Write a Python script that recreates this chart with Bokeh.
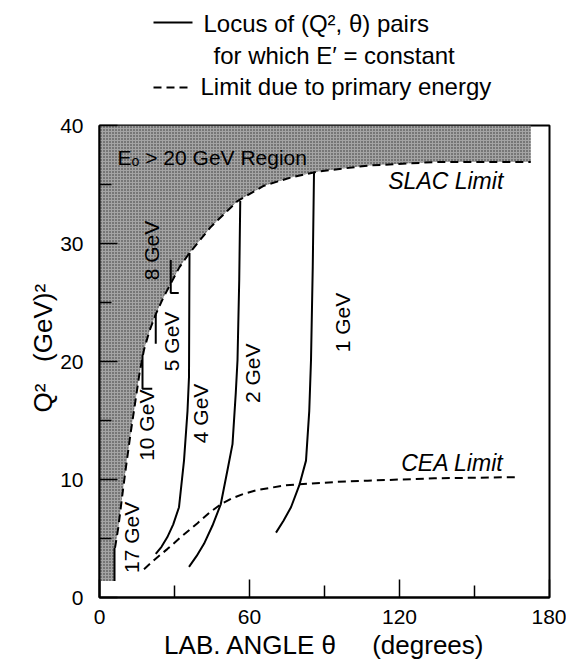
from bokeh.plotting import figure
from bokeh.models import Range1d, FixedTicker, Title
from bokeh.layouts import column
from bokeh.embed import file_html
from bokeh.resources import INLINE
from bokeh.core.properties import value
import math

FONT = "Liberation Sans"
NB = "\u00a0"

# ---------------- data ----------------
# SLAC limit (primary energy 20 GeV), theta in degrees, Q^2 in GeV^2
SLAC_THETA = [6.2, 7.5, 8.5, 9.5, 11.0, 12.5, 14.4, 16.0, 17.8, 20.0, 22.5, 25.5,
              28.5, 32.0, 36.0, 44.5, 55.2, 65.8, 76.6, 87.3, 107.3, 134.0, 172.5]
SLAC_Q2 = [4.2, 5.9, 7.6, 9.3, 11.7, 14.0, 16.7, 19.0, 21.0, 22.6, 24.0, 25.4,
           26.6, 28.0, 29.2, 31.4, 33.6, 34.9, 35.6, 36.1, 36.6, 36.9, 36.9]

# CEA limit
CEA_THETA = [17.8, 22.0, 27.1, 33.0, 39.2, 44.0, 48.5, 53.0, 57.9, 63.0, 68.6,
             74.0, 80.0, 95.3, 107.3, 134.0, 167.5]
CEA_Q2 = [2.4, 3.2, 4.1, 5.2, 6.3, 7.2, 7.9, 8.4, 8.8, 9.1, 9.3,
          9.5, 9.6, 9.8, 9.9, 10.1, 10.2]

# loci E' = constant
E1_THETA = [70.6, 73.6, 76.6, 79.9, 82.6, 83.9, 84.6, 85.3, 85.8]
E1_Q2 = [5.5, 6.5, 7.65, 9.5, 11.6, 15.8, 20.1, 28.0, 36.0]
E2_THETA = [35.8, 38.8, 41.8, 45.2, 48.5, 51.2, 53.2, 54.5, 55.2, 55.9, 56.3]
E2_Q2 = [2.6, 3.5, 4.55, 6.1, 7.9, 10.8, 13.0, 17.3, 20.1, 27.0, 33.6]
E4_THETA = [22.5, 24.8, 27.1, 29.5, 31.8, 33.8, 35.2, 35.8, 36.0]
E4_Q2 = [3.7, 4.3, 5.1, 6.2, 7.65, 11.6, 15.8, 18.7, 29.2]
E5_THETA = [31.7, 28.5, 28.5]
E5_Q2 = [25.8, 25.8, 28.6]
E8_THETA = [22.5, 22.5]
E8_Q2 = [21.5, 24.0]
E10_THETA = [21.1, 17.2, 17.2]
E10_Q2 = [17.7, 17.7, 20.6]
E17_THETA = [6.0, 6.0]
E17_Q2 = [1.4, 4.2]

Q2_MAX = 40
THETA_MAX = 180

# curve labels
LABEL_TEXT = ["1 GeV", "2 GeV", "4 GeV", "5 GeV", "8 GeV", "10 GeV", "17 GeV"]
LABEL_THETA = [97.0, 61.3, 40.5, 28.7, 20.8, 18.6, 12.6]
LABEL_Q2 = [23.3, 19.0, 15.6, 21.7, 29.4, 14.6, 5.1]

LIMIT_TEXT = ["SLAC Limit", "CEA Limit"]
LIMIT_THETA = [115.5, 120.7]
LIMIT_Q2 = [35.3, 11.4]

REGION_TEXT = ["E\u2092 > 20 GeV Region"]
REGION_THETA = [7.2]
REGION_Q2 = [37.3]

LEGEND_TEXT = ["Locus of (Q\u00b2, \u03b8) pairs", "for which E\u2032 = constant",
               "Limit due to primary energy"]

X_TICKS = [0, 60, 120, 180]
X_MINOR = [30, 90, 150]
Y_TICKS = [0, 10, 20, 30, 40]
Y_MINOR = [5, 15, 25, 35]

W = 566
HH = 113

x_range = Range1d(0, THETA_MAX)

# ---------------- header (legend) ----------------
h = figure(width=W, height=HH, x_range=x_range, y_range=Range1d(HH, 0),
           toolbar_location=None, output_backend="svg",
           x_axis_location=None, y_axis_location=None,
           min_border_left=99, min_border_right=17, min_border_top=0,
           min_border_bottom=0)
h.outline_line_color = None
h.xgrid.visible = False
h.ygrid.visible = False
h.line([21.6, 37.2], [22, 22], line_color="black", line_width=2)
h.line([21.6, 36.4], [87, 87], line_color="black", line_width=2, line_dash="8 5")
h.text(x=[41.6, 45.6, 40.4], y=[23, 55, 86], text=LEGEND_TEXT,
       text_font=value(FONT), text_font_size="24px", text_color="black",
       text_align="left", text_baseline="middle")

# ---------------- main chart ----------------
p = figure(width=W, height=552, x_range=x_range, y_range=Range1d(0, Q2_MAX),
           toolbar_location=None, output_backend="svg",
           min_border_left=99, min_border_right=17, min_border_top=12,
           min_border_bottom=68)
p.xgrid.visible = False
p.ygrid.visible = False
p.outline_line_color = "black"
p.outline_line_width = 2

# shaded region above the SLAC limit
shade_x = [0, SLAC_THETA[-1]] + SLAC_THETA[::-1] + [E17_THETA[1], E17_THETA[0], 0]
shade_y = [Q2_MAX, Q2_MAX] + SLAC_Q2[::-1] + [E17_Q2[1], E17_Q2[0], E17_Q2[0]]
p.patch(shade_x, shade_y, fill_color="#a4a4a4", line_color=None,
        hatch_pattern=".", hatch_color="#303030", hatch_scale=3, hatch_weight=1)

# limits (dashed)
p.line(SLAC_THETA, SLAC_Q2, line_color="black", line_width=2, line_dash="8 5")
p.line(CEA_THETA, CEA_Q2, line_color="black", line_width=2, line_dash="8 5")

# E' = constant loci
for xs, ys in [(E1_THETA, E1_Q2), (E2_THETA, E2_Q2), (E4_THETA, E4_Q2),
               (E5_THETA, E5_Q2), (E8_THETA, E8_Q2), (E10_THETA, E10_Q2),
               (E17_THETA, E17_Q2)]:
    p.line(xs, ys, line_color="black", line_width=2)

p.text(x=LABEL_THETA, y=LABEL_Q2, text=LABEL_TEXT, angle=math.pi / 2,
       text_font=value(FONT), text_font_size="21px", text_color="black",
       text_align="center", text_baseline="middle")
p.text(x=LIMIT_THETA, y=LIMIT_Q2, text=LIMIT_TEXT,
       text_font=value(FONT), text_font_size="23px", text_font_style="italic",
       text_color="black", text_align="left", text_baseline="middle")
p.text(x=REGION_THETA, y=REGION_Q2, text=REGION_TEXT,
       text_font=value(FONT), text_font_size="21px", text_color="black",
       text_align="left", text_baseline="middle")

# y-axis title as a side title (bottom-anchored, shifted up by offset)
p.add_layout(Title(text="Q\u00b2" + NB * 3 + "(GeV)\u00b2", align="left", offset=185,
                   text_font=FONT, text_font_size="26px", text_font_style="normal",
                   text_color="black", standoff=0), "left")

# axes
p.xaxis.ticker = FixedTicker(ticks=X_TICKS, minor_ticks=X_MINOR)
p.yaxis.ticker = FixedTicker(ticks=Y_TICKS, minor_ticks=Y_MINOR)
for ax in (p.xaxis, p.yaxis):
    ax.major_tick_in = 18
    ax.major_tick_out = 0
    ax.minor_tick_in = 12
    ax.minor_tick_out = 0
    ax.major_tick_line_width = 1.5
    ax.minor_tick_line_width = 1.5
    ax.axis_line_width = 2
    ax.major_label_text_font = FONT
    ax.major_label_text_font_size = "21px"
    ax.major_label_text_color = "black"
    ax.axis_label_text_font = FONT
    ax.axis_label_text_font_style = "normal"
    ax.axis_label_text_color = "black"
p.xaxis.axis_label_text_font_size = "26px"
p.xaxis.major_label_standoff = 12
p.yaxis.major_label_standoff = 16
p.xaxis.axis_label = "LAB. ANGLE \u03b8" + NB * 5 + "(degrees)"
p.xaxis.axis_label_standoff = 3

layout = column(h, p, spacing=0)
open("out.html", "w").write(file_html(layout, INLINE))
